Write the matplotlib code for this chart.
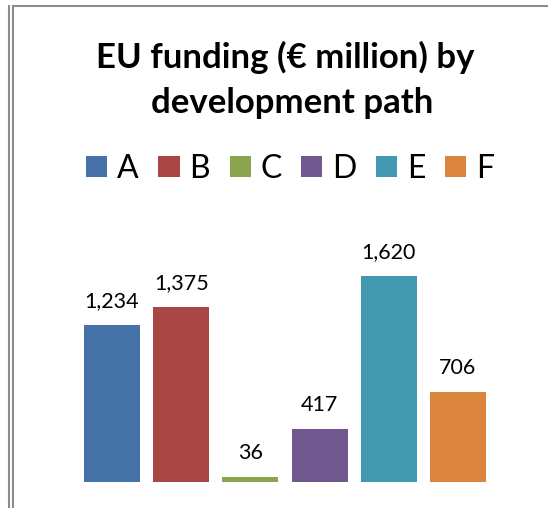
import matplotlib
matplotlib.use("Agg")
import matplotlib.pyplot as plt
from matplotlib.patches import Patch
from matplotlib.lines import Line2D

plt.rcParams['font.family'] = ['Lato', 'DejaVu Sans']

paths = ['A', 'B', 'C', 'D', 'E', 'F']
funding = [1234, 1375, 36, 417, 1620, 706]
colors = ['#4572A7', '#AA4643', '#89A54E', '#71588F', '#4198AF', '#DB843D']

W, H = 548, 508
fig = plt.figure(figsize=(W / 100, H / 100), dpi=100)

# plot area in pixels
left, right, bottom, top = 77.5, 492.5, 481.5, 253.3
ax = fig.add_axes([left / W, (H - bottom) / H, (right - left) / W, (bottom - top) / H])

x = range(len(paths))
bars = ax.bar(x, funding, width=0.81, color=colors)
for b, v in zip(bars, funding):
    ax.text(b.get_x() + b.get_width() / 2, v + 140, f"{v:,}",
            ha='center', va='baseline', fontsize=15.5)

ax.set_xlim(-0.5, len(paths) - 0.5)
ax.set_ylim(0, 1800)
ax.axis('off')

fig.text(285 / W, 1 - 68 / H, "EU funding (€ million) by", ha='center', va='baseline',
         fontsize=25, fontweight='bold')
fig.text(292 / W, 1 - 113 / H, "development path", ha='center', va='baseline',
         fontsize=25, fontweight='bold')

handles = [Patch(facecolor=c, edgecolor='none') for c in colors]
fig.legend(handles, paths, loc='center', bbox_to_anchor=(290 / W, 1 - 168.5 / H), ncol=6,
           frameon=False, fontsize=23, handlelength=0.66, handleheight=0.66,
           handletextpad=0.3, columnspacing=0.62, borderpad=0, borderaxespad=0)

# frame lines of the surrounding page
grey = '#8c8c8c'
for xp in (9, 13):
    fig.add_artist(Line2D([xp / W, xp / W], [0, 1 - 6 / H], color=grey, lw=1.5))
fig.add_artist(Line2D([13 / W, 1], [1 - 6 / H, 1 - 6 / H], color=grey, lw=1.5))
fig.text(49 / W, 1 + 6 / H, "g", ha='center', va='baseline', fontsize=15)

fig.savefig("out.png", dpi=100)
